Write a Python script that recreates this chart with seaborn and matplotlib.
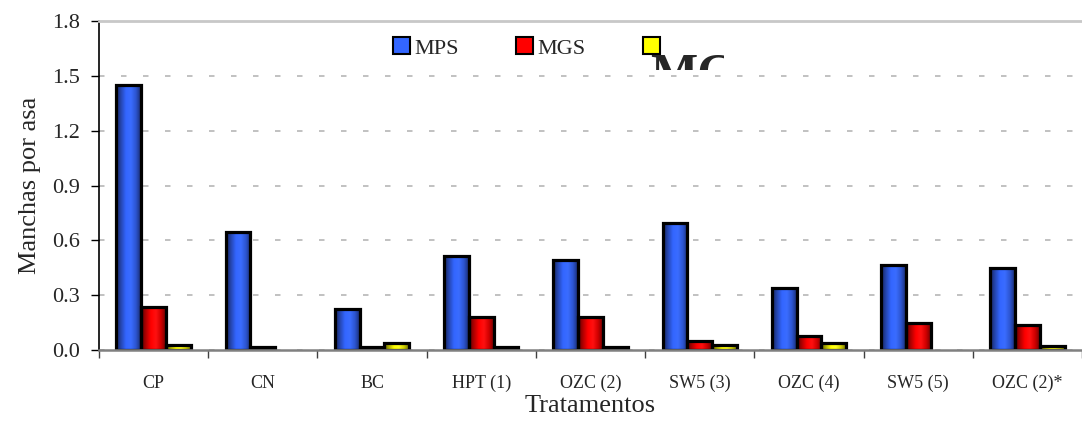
import numpy as np
import pandas as pd
import seaborn as sns
import matplotlib
matplotlib.use("Agg")
import matplotlib.pyplot as plt
from matplotlib.colors import LinearSegmentedColormap
from matplotlib.patches import Patch
from matplotlib.transforms import Bbox

categories = ["CP", "CN", "BC", "HPT (1)", "OZC (2)", "SW5 (3)", "OZC (4)", "SW5 (5)", "OZC (2)*"]
series_names = ["MPS", "MGS", "MT"]
mps = [1.45, 0.645, 0.227, 0.515, 0.495, 0.695, 0.338, 0.464, 0.449]
mgs = [0.235, 0.015, 0.015, 0.178, 0.178, 0.05, 0.078, 0.146, 0.136]
mt = [0.025, 0.0, 0.04, 0.018, 0.018, 0.027, 0.04, 0.0, 0.02]
yticks = [0.0, 0.3, 0.6, 0.9, 1.2, 1.5, 1.8]

df = pd.DataFrame({
    "cat": categories * 3,
    "serie": [series_names[0]] * 9 + [series_names[1]] * 9 + [series_names[2]] * 9,
    "val": mps + mgs + mt,
})

sns.set_style("white")
plt.rcParams["font.family"] = ["Liberation Serif", "DejaVu Serif"]

fig = plt.figure(figsize=(10.82, 4.34), dpi=100)
ax = fig.add_axes([0.0915, 0.1935, 0.9085, 0.758])

base = {"MPS": "#3366ff", "MGS": "#ff0000", "MT": "#ffff00"}
grads = {
    "MPS": ["#16235a", "#2546b0", "#3366ff", "#3a6cff", "#2c55d0", "#1a2c70"],
    "MGS": ["#5a0000", "#b00000", "#ff0000", "#ff1010", "#d00000", "#700000"],
    "MT": ["#5a5a00", "#b0b000", "#ffff00", "#ffff20", "#d0d000", "#707000"],
}

sns.barplot(data=df, x="cat", y="val", hue="serie", palette=base,
            width=0.68, edgecolor="black", linewidth=2.3, saturation=1,
            legend=False, ax=ax, zorder=2)

grad = np.linspace(0, 1, 256).reshape(1, -1)
for name, cont in zip(series_names, ax.containers):
    cmap = LinearSegmentedColormap.from_list(name, grads[name])
    for p in cont.patches:
        if p.get_height() <= 0:
            p.set_visible(False)
            continue
        p.set_facecolor("none")
        x0, y0 = p.get_x(), p.get_y()
        w, h = p.get_width(), p.get_height()
        im = ax.imshow(grad, extent=[x0, x0 + w, y0, y0 + h], aspect="auto",
                       cmap=cmap, zorder=1.9, interpolation="bilinear")
        im.set_clip_path(p)

ax.set_xlim(-0.5, 8.5)
ax.set_ylim(0, 1.8)
ax.set_yticks(yticks)
ax.set_yticklabels([f"{v:.1f}" for v in yticks], fontsize=16)
ax.set_xticks(range(len(categories)))
ax.set_xticklabels(categories, fontsize=13)
ax.set_xticks(np.arange(-0.5, 9.0, 1.0), minor=True)
ax.tick_params(axis="x", which="major", length=0, pad=18)
ax.tick_params(axis="x", which="minor", length=6, width=1, color="#404040", direction="out", bottom=True)
ax.tick_params(axis="y", which="major", length=6, width=1, color="black", direction="out", left=True, pad=8)

ax.yaxis.grid(True, color="#b0b0b0", linestyle=(0, (3.6, 10.8)), linewidth=1.1)
ax.set_axisbelow(True)
ax.spines["right"].set_visible(False)
ax.spines["top"].set_color("#c8c8c8")
ax.spines["top"].set_linewidth(2)
ax.spines["left"].set_color("black")
ax.spines["left"].set_linewidth(1.2)
ax.spines["bottom"].set_color("#808080")
ax.spines["bottom"].set_linewidth(1.8)

ax.set_xlabel("Tratamentos", fontsize=19, labelpad=2)
ax.set_ylabel("Manchas por asa", fontsize=19, labelpad=8)

handles = [Patch(facecolor=base[n], edgecolor="black", linewidth=1.5) for n in series_names]
leg = ax.legend(handles, ["MPS", "MGS", ""], loc="center left",
                bbox_to_anchor=(393 / 1082, 1 - 48 / 434), bbox_transform=fig.transFigure,
                ncol=3, frameon=False, fontsize=16, handlelength=0.75, handleheight=0.8,
                handletextpad=0.2, columnspacing=2.6, borderaxespad=0, borderpad=0)

t = fig.text(650 / 1082, 1 - 88 / 434, "MGT", fontsize=36, fontweight="bold",
             ha="left", va="baseline")
t.set_clip_box(Bbox([[650, 434 - 70], [724, 434 - 53]]))
t.set_clip_on(True)

fig.savefig("out.png", dpi=100)
